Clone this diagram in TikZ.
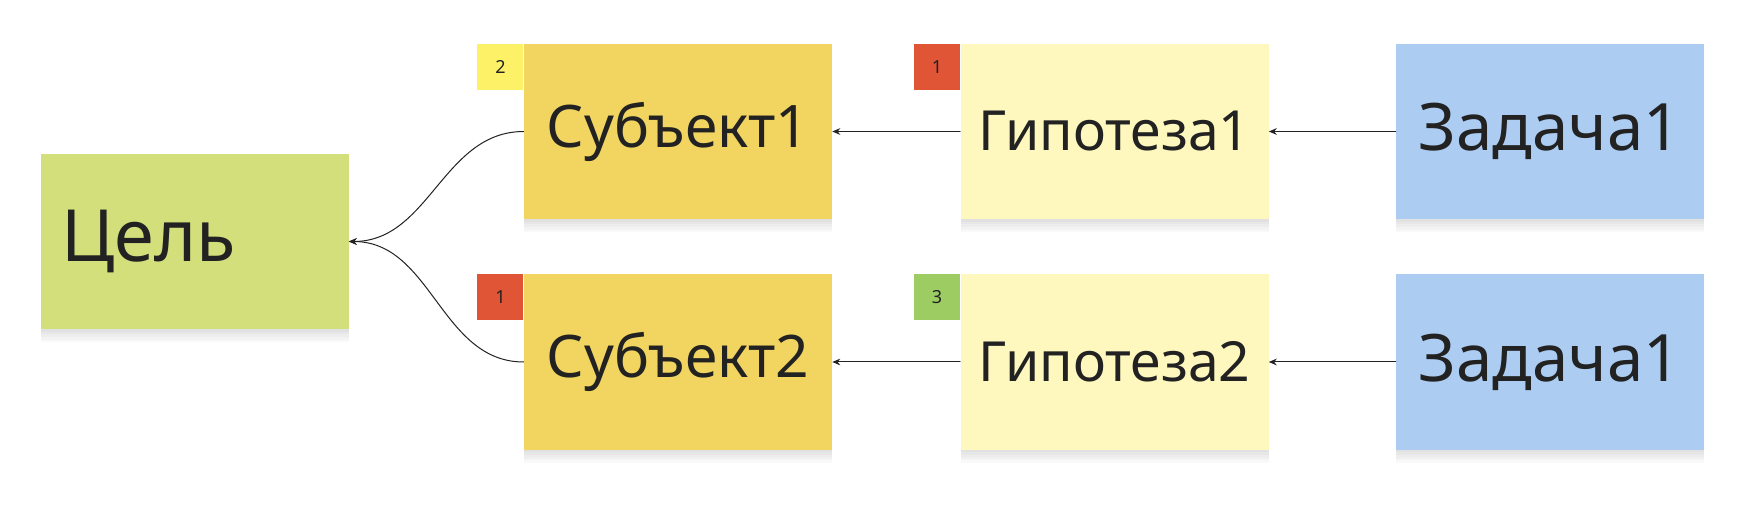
\documentclass[tikz,border=0pt]{standalone}
\usepackage{fontspec}
\setmainfont{Noto Sans}
\usepackage{xcolor,tikz}
\usetikzlibrary{arrows.meta}
\definecolor{gsInk}{HTML}{222222}
\definecolor{gsGoal}{HTML}{D3DF7B}
\definecolor{gsSubj}{HTML}{F2D560}
\definecolor{gsHyp}{HTML}{FFF8BE}
\definecolor{gsTask}{HTML}{ADCCF2}
\definecolor{gsYellow}{HTML}{FDF267}
\definecolor{gsRed}{HTML}{E05536}
\definecolor{gsGreen}{HTML}{9DCD62}
\tikzset{
 board/.style={text=gsInk,line cap=round,line join=round},
 shadowstep/.style={preaction={fill=black,opacity=.025,transform canvas={yshift=-#1}}},
 sticky/.style={rectangle,inner sep=0pt,minimum width=231pt,minimum height=131.25pt,
   shadowstep=2pt,shadowstep=4pt,shadowstep=6pt,shadowstep=8pt,shadowstep=10pt},
 goalnote/.style={sticky,fill=gsGoal,text width=199.5pt,align=left,font=\fontsize{54}{62}\selectfont},
 subjnote/.style={sticky,fill=gsSubj,font=\fontsize{44}{52}\selectfont},
 hypnote/.style={sticky,fill=gsHyp,font=\fontsize{41.5}{50}\selectfont},
 tasknote/.style={sticky,fill=gsTask,font=\fontsize{49}{58}\selectfont},
 badge/.style={rectangle,inner sep=0pt,minimum size=34.5pt,anchor=north east,font=\fontsize{13.5}{15}\selectfont},
 flow/.style={draw=gsInk,line width=.75pt,-{Stealth[length=6pt,width=5pt]}}
}
\begin{document}
\begin{tikzpicture}[board,x=.75pt,y=-.75pt]
 \useasboundingbox[fill=white] (0,0) rectangle (1748,516);
 % goal
 \node[goalnote] (goal) at (194.5,241.5) {Цель};
 % top row
 \node[subjnote] (subjA) at (678,131.5) {Субъект1};
 \node[hypnote] (hypA) at (1114.5,131.5) {Гипотеза1};
 \node[tasknote] (taskA) at (1550,131.5) {Задача1};
 % bottom row
 \node[subjnote] (subjB) at (678,362) {Субъект2};
 \node[hypnote] (hypB) at (1114.5,362) {Гипотеза2};
 \node[tasknote] (taskB) at (1550,362) {Задача1};
 % votes
 \node[badge,fill=gsYellow] (voteSA) at (subjA.north west) {2};
 \node[badge,fill=gsRed] (voteHA) at (hypA.north west) {1};
 \node[badge,fill=gsRed] (voteSB) at (subjB.north west) {1};
 \node[badge,fill=gsGreen] (voteHB) at (hypB.north west) {3};
 % links
 \draw[flow] (taskA.west) -- (hypA.east);
 \draw[flow] (hypA.west) -- (subjA.east);
 \draw[flow] (taskB.west) -- (hypB.east);
 \draw[flow] (hypB.west) -- (subjB.east);
 \draw[flow] (subjA.west) to[out=180,in=0] (goal.east);
 \draw[flow] (subjB.west) to[out=180,in=0] (goal.east);
\end{tikzpicture}
\end{document}
